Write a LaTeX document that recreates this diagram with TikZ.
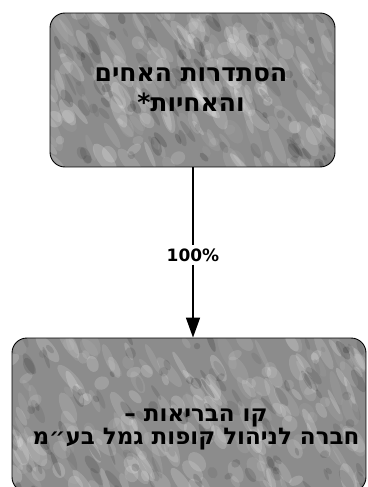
\documentclass[tikz,border=0pt]{standalone}
\usepackage{fontspec}
\TeXXeTstate=1
\newfontfamily\hebfont[Script=Hebrew]{DejaVu Sans Bold}
\newfontfamily\numfont{DejaVu Sans Bold}
\usetikzlibrary{arrows.meta}
\newcommand\marblefill[4]{%
  \begin{scope}
    \clip[rounded corners=15pt] (#1,#2) rectangle (#3,#4);
    \fill[black!45] (#1,#2) rectangle (#3,#4);
    \foreach \i in {1,...,220}{%
      \pgfmathsetmacro\px{#1+(#3-#1)*rnd}%
      \pgfmathsetmacro\py{#2+(#4-#2)*rnd}%
      \pgfmathsetmacro\rx{4+16*rnd}%
      \pgfmathsetmacro\ry{2+6*rnd}%
      \pgfmathsetmacro\op{0.05+0.15*rnd}%
      \pgfmathsetmacro\ang{-75+30*rnd}%
      \fill[white,opacity=\op,rotate around={\ang:(\px,\py)}] (\px,\py) ellipse [x radius=\rx, y radius=\ry];
    }
    \foreach \i in {1,...,110}{%
      \pgfmathsetmacro\px{#1+(#3-#1)*rnd}%
      \pgfmathsetmacro\py{#2+(#4-#2)*rnd}%
      \pgfmathsetmacro\rx{3+10*rnd}%
      \pgfmathsetmacro\ry{1.5+3.5*rnd}%
      \pgfmathsetmacro\op{0.05+0.12*rnd}%
      \pgfmathsetmacro\ang{-75+30*rnd}%
      \fill[black,opacity=\op,rotate around={\ang:(\px,\py)}] (\px,\py) ellipse [x radius=\rx, y radius=\ry];
    }
  \end{scope}}
\tikzset{
  marblebox/.style={draw=black, line width=0.9pt, rounded corners=15pt, inner sep=0pt},
  hebtext/.style={align=center, inner sep=0pt, font=\hebfont\fontsize{23}{25}\selectfont},
  conn/.style={line width=1.6pt},
  pct/.style={font=\numfont\fontsize{17}{20}\selectfont, inner sep=3pt}
}
\begin{document}
\begin{tikzpicture}[x=1pt,y=-1pt]
\useasboundingbox (0,0) rectangle (367,487);
\pgfmathsetseed{11}
\marblefill{50}{13}{335}{167}
\marblefill{12}{338}{366}{492}
\node[marblebox, minimum width=285pt, minimum height=154pt] (top) at (192.5,90) {};
\node[hebtext, font=\hebfont\fontsize{25}{27}\selectfont] (toptext) at (191,90)
  {\beginR הסתדרות האחים\endR\\[3pt]\beginR והאחיות*\endR};
\node[marblebox, minimum width=354pt, minimum height=154pt] (bottom) at (189,415) {};
\node[hebtext] (bottomtext) at (196,429)
  {\beginR קו הבריאות –\endR\\[-2pt]\beginR חברה לניהול קופות גמל בע״מ\endR};
\node[pct] (lbl) at (193,255) {100\%};
\draw[conn] (top.south -| lbl) -- (lbl.north);
\draw[conn, -{Triangle[length=20pt,width=14pt]}] (lbl.south) -- (lbl.south |- bottom.north);
\end{tikzpicture}
\end{document}
